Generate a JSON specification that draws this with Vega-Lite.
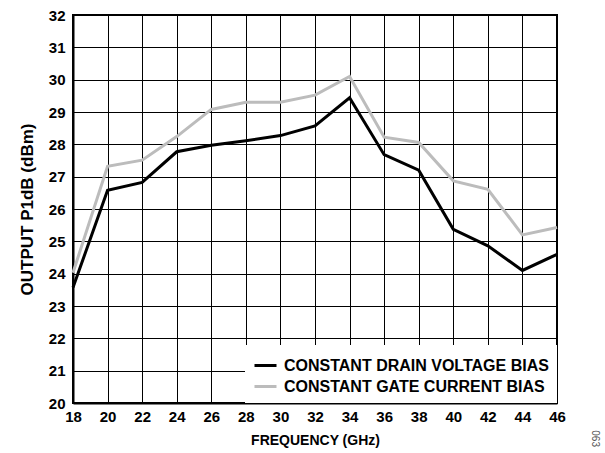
{
  "$schema": "https://vega.github.io/schema/vega-lite/v6.json",
  "width": 484,
  "height": 388,
  "autosize": {"type": "none"},
  "padding": {"left": 73, "top": 15, "right": 48, "bottom": 50},
  "background": "white",
  "config": {
    "font": "Liberation Sans",
    "view": {"stroke": "black", "strokeWidth": 2},
    "axis": {
      "labelFont": "Liberation Sans",
      "labelFontWeight": "bold",
      "labelFontSize": 15,
      "labelColor": "black",
      "titleFont": "Liberation Sans",
      "titleFontWeight": "bold",
      "titleColor": "black",
      "gridColor": "black",
      "gridWidth": 1,
      "gridOpacity": 1,
      "domainColor": "black",
      "domainWidth": 2,
      "tickSize": 0
    }
  },
  "title": {
    "text": "063",
    "orient": "right",
    "anchor": "end",
    "fontSize": 10,
    "fontWeight": "normal",
    "color": "#555555",
    "offset": 25,
    "dx": 0
  },
  "data": {
    "values": [
      {"f": 18, "p": 23.57, "s": "CONSTANT DRAIN VOLTAGE BIAS"},
      {"f": 20, "p": 26.58, "s": "CONSTANT DRAIN VOLTAGE BIAS"},
      {"f": 22, "p": 26.82, "s": "CONSTANT DRAIN VOLTAGE BIAS"},
      {"f": 24, "p": 27.77, "s": "CONSTANT DRAIN VOLTAGE BIAS"},
      {"f": 26, "p": 27.97, "s": "CONSTANT DRAIN VOLTAGE BIAS"},
      {"f": 28, "p": 28.11, "s": "CONSTANT DRAIN VOLTAGE BIAS"},
      {"f": 30, "p": 28.27, "s": "CONSTANT DRAIN VOLTAGE BIAS"},
      {"f": 32, "p": 28.57, "s": "CONSTANT DRAIN VOLTAGE BIAS"},
      {"f": 34, "p": 29.44, "s": "CONSTANT DRAIN VOLTAGE BIAS"},
      {"f": 36, "p": 27.68, "s": "CONSTANT DRAIN VOLTAGE BIAS"},
      {"f": 38, "p": 27.2, "s": "CONSTANT DRAIN VOLTAGE BIAS"},
      {"f": 40, "p": 25.37, "s": "CONSTANT DRAIN VOLTAGE BIAS"},
      {"f": 42, "p": 24.86, "s": "CONSTANT DRAIN VOLTAGE BIAS"},
      {"f": 44, "p": 24.1, "s": "CONSTANT DRAIN VOLTAGE BIAS"},
      {"f": 46, "p": 24.6, "s": "CONSTANT DRAIN VOLTAGE BIAS"},
      {"f": 18, "p": 24.03, "s": "CONSTANT GATE CURRENT BIAS"},
      {"f": 20, "p": 27.32, "s": "CONSTANT GATE CURRENT BIAS"},
      {"f": 22, "p": 27.51, "s": "CONSTANT GATE CURRENT BIAS"},
      {"f": 24, "p": 28.24, "s": "CONSTANT GATE CURRENT BIAS"},
      {"f": 26, "p": 29.08, "s": "CONSTANT GATE CURRENT BIAS"},
      {"f": 28, "p": 29.3, "s": "CONSTANT GATE CURRENT BIAS"},
      {"f": 30, "p": 29.3, "s": "CONSTANT GATE CURRENT BIAS"},
      {"f": 32, "p": 29.52, "s": "CONSTANT GATE CURRENT BIAS"},
      {"f": 34, "p": 30.1, "s": "CONSTANT GATE CURRENT BIAS"},
      {"f": 36, "p": 28.22, "s": "CONSTANT GATE CURRENT BIAS"},
      {"f": 38, "p": 28.06, "s": "CONSTANT GATE CURRENT BIAS"},
      {"f": 40, "p": 26.87, "s": "CONSTANT GATE CURRENT BIAS"},
      {"f": 42, "p": 26.61, "s": "CONSTANT GATE CURRENT BIAS"},
      {"f": 44, "p": 25.2, "s": "CONSTANT GATE CURRENT BIAS"},
      {"f": 46, "p": 25.43, "s": "CONSTANT GATE CURRENT BIAS"}
    ]
  },
  "mark": {"type": "line", "strokeWidth": 3, "strokeJoin": "miter"},
  "encoding": {
    "x": {
      "field": "f",
      "type": "quantitative",
      "scale": {"domain": [18, 46], "nice": false},
      "axis": {"values": [18,20,22,24,26,28,30,32,34,36,38,40,42,44,46], "title": "FREQUENCY (GHz)", "titleFontSize": 14, "labelPadding": 6, "titlePadding": 9, "labelFlush": false}
    },
    "y": {
      "field": "p",
      "type": "quantitative",
      "scale": {"domain": [20, 32], "nice": false, "zero": false},
      "axis": {"values": [20,21,22,23,24,25,26,27,28,29,30,31,32], "title": "OUTPUT P1dB (dBm)", "titleFontSize": 17, "labelPadding": 8, "titlePadding": 12, "labelFlush": false}
    },
    "color": {
      "field": "s",
      "type": "nominal",
      "scale": {"domain": ["CONSTANT DRAIN VOLTAGE BIAS", "CONSTANT GATE CURRENT BIAS"], "range": ["#000000", "#bcbcbc"]},
      "legend": {
        "title": null,
        "orient": "bottom-right",
        "offset": 0,
        "fillColor": "white",
        "padding": 8,
        "rowPadding": -2,
        "labelOffset": 6,
        "symbolType": "stroke",
        "symbolStrokeWidth": 3,
        "symbolSize": 484,
        "labelFont": "Liberation Sans",
        "labelFontWeight": "bold",
        "labelFontSize": 16,
        "labelColor": "black",
        "labelLimit": 400
      }
    }
  }
}
